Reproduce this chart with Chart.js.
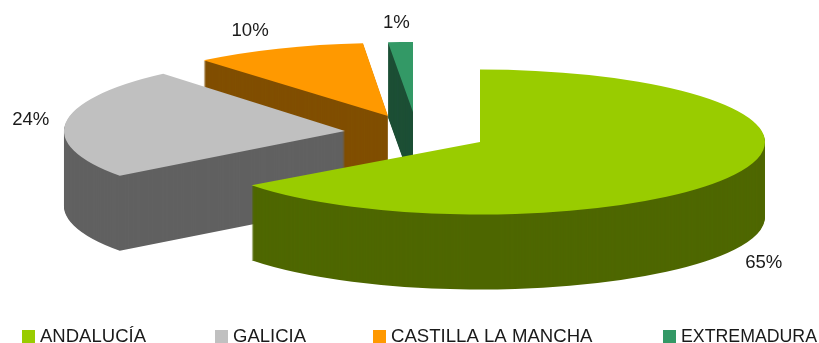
<!DOCTYPE html>
<html>
<head>
<meta charset="utf-8">
<style>html,body{margin:0;padding:0;background:#fff;overflow:hidden}canvas{display:block}</style>
<script src="https://cdn.jsdelivr.net/npm/chart.js@4"></script>
</head>
<body>
<canvas id="c" width="819" height="343"></canvas>
<script>
const categories = ['ANDALUCÍA', 'GALICIA', 'CASTILLA LA MANCHA', 'EXTREMADURA'];
const shares = [64.8, 24, 9.8, 1.4];
const shareLabels = ['65%', '24%', '10%', '1%'];
const topColors = ['#99cc00', '#c0c0c0', '#ff9900', '#339966'];
const sideColors = ['#4d6600', '#606060', '#804d00', '#1a4d33'];

// 3D projection of the pie
const centerX = 480, centerY = 142, depth = 75;
const radiusXs = [285, 281, 285, 285];
const radiusYs = [72.5, 75, 73, 70];
const explodeX = [0, -135, -92, -67];
const explodeY = [0, -11, -26, -30];
const labelNudgeX = [29, -35, -28, -4];
const labelNudgeY = [13, -3, -18, -19];
const frontToBack = [0, 1, 2, 3];
const legendX = [22, 215, 373, 663];
const legendTextMax = [106, 73, 204, 136];
const textFont = '18.6px "Liberation Sans", Arial, sans-serif';
const textColor = '#1a1a1a';

const pie3d = {
  id: 'pie3d',
  beforeDatasetsDraw(chart) {
    const ctx = chart.ctx;
    const arcs = chart.getDatasetMeta(0).data;
    ctx.save();
    // paint front to back, each new layer going behind what is already there
    ctx.globalCompositeOperation = 'destination-over';
    frontToBack.forEach(i => {
      const arc = arcs[i];
      const base = arc.options;
      const project = dy => {
        ctx.translate(centerX + explodeX[i], centerY + explodeY[i] + dy);
        ctx.scale(radiusXs[i] / arc.outerRadius, radiusYs[i] / arc.outerRadius);
        ctx.translate(-arc.x, -arc.y);
      };
      ctx.save();
      project(0);
      arc.draw(ctx);
      ctx.restore();
      const side = Object.create(base);
      side.backgroundColor = sideColors[i];
      arc.options = side;
      for (let d = 1; d <= depth; d++) {
        ctx.save();
        project(d);
        arc.draw(ctx);
        ctx.restore();
      }
      arc.options = base;
    });
    ctx.restore();
    return false;
  },
  afterDraw(chart) {
    const ctx = chart.ctx;
    const arcs = chart.getDatasetMeta(0).data;
    ctx.save();
    ctx.font = textFont;
    ctx.fillStyle = textColor;
    // slice percentages
    ctx.textAlign = 'center';
    ctx.textBaseline = 'middle';
    arcs.forEach((arc, i) => {
      const mid = (arc.startAngle + arc.endAngle) / 2;
      const x = centerX + explodeX[i] + radiusXs[i] * Math.cos(mid) + labelNudgeX[i];
      const y = centerY + explodeY[i] + radiusYs[i] * Math.sin(mid) +
        (Math.sin(mid) > 0 ? depth : 0) + labelNudgeY[i];
      ctx.fillText(shareLabels[i], x, y);
    });
    // legend row
    ctx.textAlign = 'left';
    ctx.textBaseline = 'alphabetic';
    categories.forEach((name, i) => {
      ctx.fillStyle = topColors[i];
      ctx.fillRect(legendX[i], 330, 13, 13);
      ctx.fillStyle = textColor;
      ctx.fillText(name, legendX[i] + 18, 342, legendTextMax[i]);
    });
    ctx.restore();
  }
};

new Chart(document.getElementById('c'), {
  type: 'pie',
  data: {
    labels: categories,
    datasets: [{ data: shares, backgroundColor: topColors, borderWidth: 0 }]
  },
  options: {
    responsive: false,
    animation: false,
    plugins: { legend: { display: false }, tooltip: { enabled: false } }
  },
  plugins: [pie3d]
});
</script>
</body>
</html>
